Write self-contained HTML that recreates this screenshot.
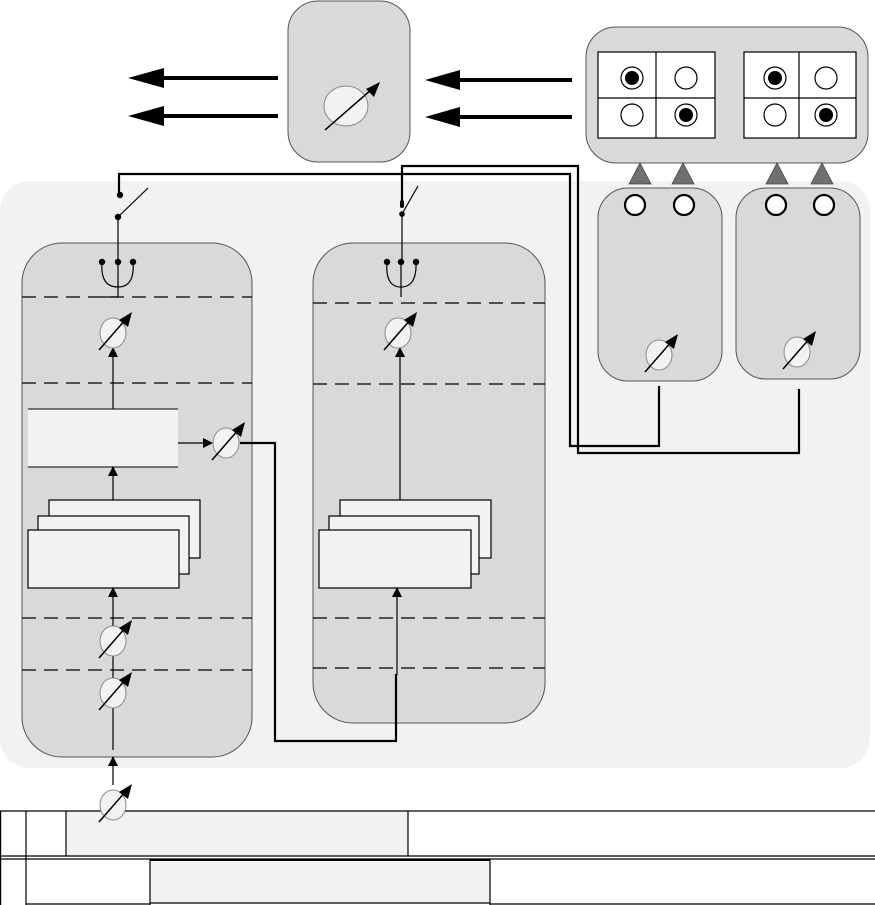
<!DOCTYPE html>
<html><head><meta charset="utf-8"><style>html,body{margin:0;padding:0;background:#fff}svg{display:block}</style></head>
<body>
<svg width="875" height="905" viewBox="0 0 875 905" xmlns="http://www.w3.org/2000/svg">
<defs>
<marker id="ah" markerWidth="10" markerHeight="10" refX="8" refY="5" orient="auto" markerUnits="userSpaceOnUse"><path d="M0,0 L10,5 L0,10 Z" fill="#000"/></marker>
<g id="g">
<ellipse cx="0" cy="0" rx="13" ry="15" fill="#f2f2f2" stroke="#888" stroke-width="1"/>
<line x1="-14" y1="17" x2="13" y2="-14" stroke="#000" stroke-width="1.5"/>
<path d="M19,-21 L15,-6 L6,-13 Z" fill="#000"/>
</g>
</defs>
<rect x="0" y="181" width="870" height="587" rx="30" fill="#f2f2f2"/>
<rect x="288" y="1" width="122" height="161" rx="30" fill="#d9d9d9" stroke="#555"/>
<ellipse cx="346" cy="106" rx="22" ry="20" fill="#f2f2f2" stroke="#888"/>
<line x1="325" y1="130" x2="372" y2="89" stroke="#000" stroke-width="1.5"/>
<path d="M380,82 L374,97 L366,89 Z" fill="#000"/>
<g stroke="#000" stroke-width="4">
<line x1="278" y1="78" x2="160" y2="78"/><line x1="278" y1="116" x2="160" y2="116"/>
<line x1="572" y1="80" x2="455" y2="80"/><line x1="572" y1="117" x2="455" y2="117"/>
</g>
<g fill="#000">
<path d="M128,78 L164,68 L164,88 Z"/><path d="M128,116 L164,106 L164,126 Z"/>
<path d="M425,80 L460,70 L460,90 Z"/><path d="M425,117 L460,107 L460,127 Z"/>
</g>
<rect x="586" y="27" width="282" height="136" rx="30" fill="#d9d9d9" stroke="#555"/>
<g stroke="#000" stroke-width="1.2" fill="#fff">
<rect x="598" y="52" width="117" height="86"/><rect x="744" y="52" width="112" height="86"/>
<line x1="656" y1="52" x2="656" y2="138"/><line x1="598" y1="98" x2="715" y2="98"/>
<line x1="799" y1="52" x2="799" y2="138"/><line x1="744" y1="98" x2="856" y2="98"/>
<circle cx="632" cy="78" r="11"/><circle cx="686" cy="78" r="11"/><circle cx="632" cy="115" r="11"/><circle cx="686" cy="115" r="11"/>
<circle cx="775" cy="78" r="11"/><circle cx="826" cy="78" r="11"/><circle cx="775" cy="115" r="11"/><circle cx="826" cy="115" r="11"/>
</g>
<g fill="#000"><circle cx="632" cy="78" r="7"/><circle cx="686" cy="115" r="7"/><circle cx="775" cy="78" r="7"/><circle cx="826" cy="115" r="7"/></g>
<g fill="#707070" stroke="#444" stroke-width="0.8">
<path d="M629,184 L640,163 L651,184 Z"/><path d="M672,184 L683,163 L694,184 Z"/>
<path d="M766,184 L777,163 L788,184 Z"/><path d="M811,184 L822,163 L833,184 Z"/>
</g>
<rect x="598" y="188" width="124" height="193" rx="30" fill="#d9d9d9" stroke="#555"/>
<rect x="736" y="188" width="124" height="191" rx="30" fill="#d9d9d9" stroke="#555"/>
<g fill="#fff" stroke="#000" stroke-width="2.2">
<circle cx="635" cy="205" r="10"/><circle cx="684" cy="205" r="10"/><circle cx="776" cy="205" r="10"/><circle cx="824" cy="205" r="10"/>
</g>
<use href="#g" x="659" y="355"/><use href="#g" x="797" y="352"/>
<rect x="22" y="243" width="230" height="514" rx="40" fill="#d9d9d9" stroke="#555"/>
<rect x="313" y="243" width="232" height="480" rx="40" fill="#d9d9d9" stroke="#555"/>
<g stroke="#000" stroke-width="1.2" stroke-dasharray="14,8">
<line x1="22" y1="297" x2="252" y2="297"/><line x1="22" y1="383" x2="252" y2="383"/>
<line x1="22" y1="618" x2="252" y2="618"/><line x1="22" y1="670" x2="252" y2="670"/>
<line x1="313" y1="303" x2="545" y2="303"/><line x1="313" y1="384" x2="545" y2="384"/>
<line x1="313" y1="618" x2="545" y2="618"/><line x1="313" y1="668" x2="545" y2="668"/>
</g>
<g fill="none" stroke="#000" stroke-width="2.2">
<polyline points="119,195 119,174 570,174 570,446 659,446 659,386"/>
<polyline points="402,205 402,166 578,166 578,453 799,453 799,389"/>
</g>
<g stroke="#000" stroke-width="1.2" fill="none">
<line x1="118" y1="217" x2="148" y2="188"/><line x1="118" y1="217" x2="118" y2="262"/>
<path d="M102,262 Q100,287 118,287 Q135,287 133,262"/><line x1="118" y1="262" x2="118" y2="297"/><line x1="102" y1="297" x2="118" y2="297"/>
<line x1="402" y1="214" x2="418" y2="186"/><line x1="402" y1="214" x2="402" y2="262"/>
<path d="M387,262 Q385,287 401,287 Q417,287 416,262"/><line x1="401" y1="262" x2="401" y2="297"/>
</g>
<g fill="#000">
<circle cx="120" cy="195" r="3.2"/><circle cx="118" cy="217" r="3.2"/>
<circle cx="102" cy="262" r="3.2"/><circle cx="118" cy="262" r="3.2"/><circle cx="133" cy="262" r="3.2"/>
<rect x="400" y="200" width="4" height="8" rx="2"/><circle cx="402" cy="214" r="2.8"/>
<circle cx="387" cy="262" r="3.2"/><circle cx="401" cy="262" r="3.2"/><circle cx="416" cy="262" r="3.2"/>
</g>
<rect x="28" y="409" width="150" height="58" fill="#f2f2f2"/>
<line x1="28" y1="409" x2="178" y2="409" stroke="#000"/><line x1="28" y1="467" x2="178" y2="467" stroke="#000"/>
<g fill="#f2f2f2" stroke="#000" stroke-width="1.2">
<rect x="49" y="500" width="151" height="58"/><rect x="38" y="516" width="151" height="58"/><rect x="28" y="530" width="151" height="58"/>
<rect x="340" y="500" width="151" height="58"/><rect x="329" y="516" width="150" height="58"/><rect x="319" y="530" width="152" height="58"/>
</g>
<g stroke="#000" stroke-width="1.2" marker-end="url(#ah)">
<line x1="113" y1="409" x2="113" y2="349"/>
<line x1="113" y1="500" x2="113" y2="468"/>
<line x1="178" y1="443" x2="211" y2="443"/>
<line x1="113" y1="626" x2="113" y2="589"/>
<line x1="113" y1="785" x2="113" y2="758"/>
<line x1="400" y1="500" x2="400" y2="349"/>
<line x1="397" y1="675" x2="397" y2="589"/>
</g>
<line x1="113" y1="656" x2="113" y2="678" stroke="#000" stroke-width="1.2"/>
<line x1="113" y1="708" x2="113" y2="750" stroke="#000" stroke-width="1.2"/>
<polyline points="240,443 275,443 275,741 396,741 396,674" fill="none" stroke="#000" stroke-width="2.2"/>
<use href="#g" x="113" y="333"/><use href="#g" x="226" y="443"/><use href="#g" x="398" y="333"/>
<use href="#g" x="113" y="641"/><use href="#g" x="113" y="693"/>
<rect x="66" y="811" width="342" height="45" fill="#f2f2f2"/>
<rect x="150" y="859" width="340" height="44" fill="#f2f2f2"/>
<g stroke="#000" stroke-width="1.2" fill="none">
<line x1="0" y1="811" x2="875" y2="811"/><line x1="0" y1="856" x2="875" y2="856"/><line x1="0" y1="859" x2="875" y2="859"/>
<line x1="0.6" y1="811" x2="0.6" y2="905"/><line x1="26" y1="811" x2="26" y2="905"/>
<line x1="66" y1="811" x2="66" y2="856"/><line x1="408" y1="811" x2="408" y2="856"/>
<line x1="150" y1="859" x2="150" y2="905"/><line x1="490" y1="859" x2="490" y2="905"/>
<line x1="26" y1="904" x2="150" y2="904"/><line x1="150" y1="903" x2="490" y2="903"/><line x1="490" y1="904" x2="875" y2="904"/>
</g>
<line x1="150" y1="860" x2="490" y2="860" stroke="#000" stroke-width="2"/>
<use href="#g" x="113" y="805"/>
</svg>
</body></html>
